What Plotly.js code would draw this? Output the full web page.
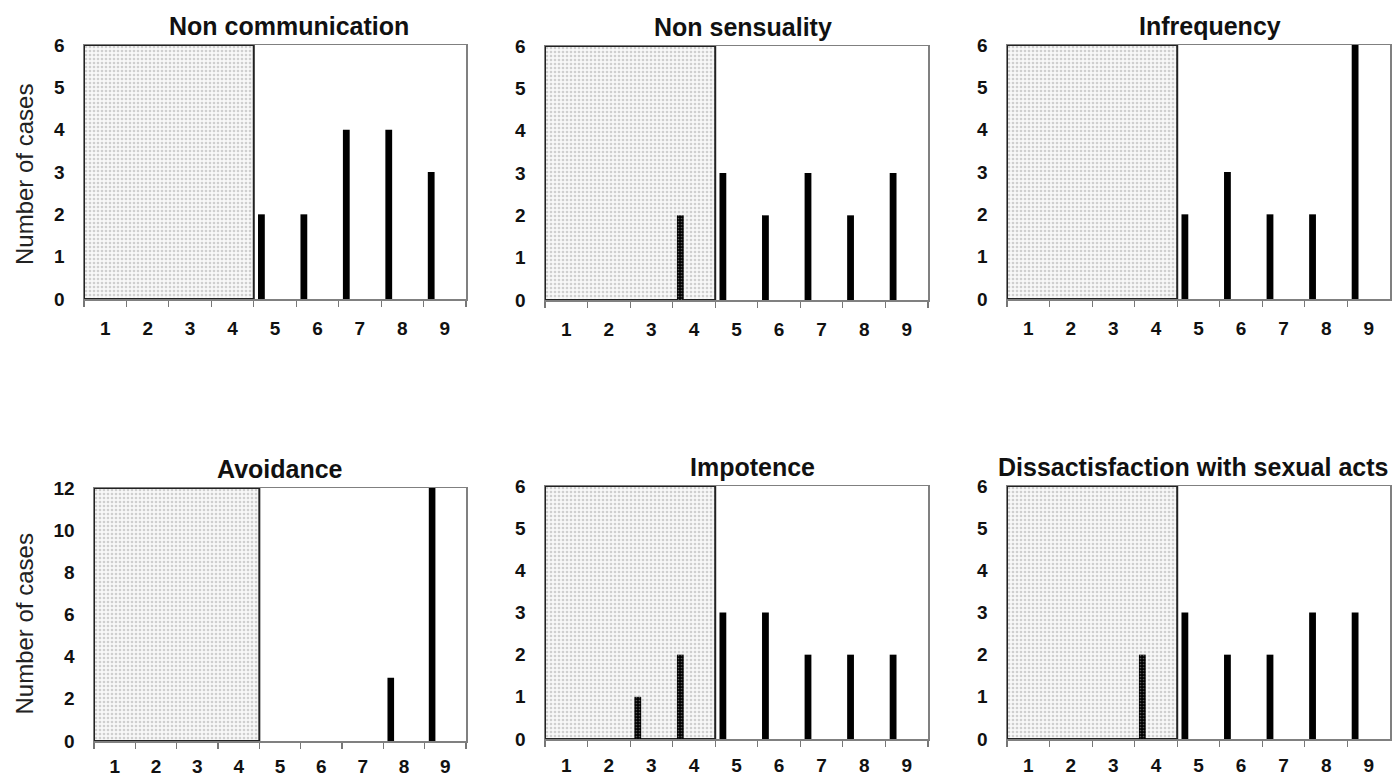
<!DOCTYPE html>
<html>
<head>
<meta charset="utf-8">
<script src="https://cdn.plot.ly/plotly-3.0.1.min.js"></script>
<style>html,body{margin:0;padding:0;background:#fff}#chart{width:1398px;height:778px}</style>
</head>
<body>
<div id="chart"></div>
<script>
// ---- data ----
const categories = ['1','2','3','4','5','6','7','8','9'];
const panelTitles = ['Non communication','Non sensuality','Infrequency','Avoidance','Impotence','Dissactisfaction with sexual acts'];
const nonCommunication = [0,0,0,0,2,2,4,4,3];
const nonSensuality    = [0,0,0,2,3,2,3,2,3];
const infrequency      = [0,0,0,0,2,3,2,2,6];
const avoidance        = [0,0,0,0,0,0,0,3,12];
const impotence        = [0,0,1,2,3,3,2,2,2];
const dissatisfaction  = [0,0,0,2,3,2,2,3,3];
const yMax   = [6,6,6,12,6,6];
const yStep  = [1,1,1,2,1,1];
const shadedRange = [1,4];   // categories covered by the shaded zone
const yTitle = 'Number of cases';

const series = [nonCommunication, nonSensuality, infrequency, avoidance, impotence, dissatisfaction];

// ---- layout geometry (pixels) ----
const W = 1398, H = 778;
const boxes = [
  {l:84,  r:466,  t:45,  b:299, tx:289, so:12},
  {l:545, r:928,  t:46,  b:300, tx:743, so:12},
  {l:1007,r:1390, t:45,  b:299, tx:1210, so:12},
  {l:94,  r:466,  t:488, b:741, tx:280, so:8},
  {l:545, r:928,  t:486, b:739, tx:752, so:9},
  {l:1007,r:1390, t:486, b:739, tx:1193, so:9}
];

const FAM = 'Liberation Sans, Arial, sans-serif';
const traces = [];
const layout = {
  width: W, height: H,
  margin:{l:0,r:0,t:0,b:0},
  paper_bgcolor:'#fff', plot_bgcolor:'#fff',
  showlegend:false, barmode:'overlay',
  font: {family:FAM, size:19, weight:700, color:'#111'},
  annotations: []
};

series.forEach((vals, i) => {
  const n = i + 1;
  const xa = n === 1 ? 'x' : 'x' + n;
  const ya = n === 1 ? 'y' : 'y' + n;
  const bx = boxes[i];
  // shaded zone
  traces.push({
    type:'bar', xaxis:xa, yaxis:ya,
    x:[categories[shadedRange[0]-1]], y:[yMax[i]], base:0,
    offset:-0.5, width:[shadedRange[1]-shadedRange[0]+1],
    marker:{color:'#f4f4f4',
      pattern:{shape:'.', size:4, solidity:0.35, fgcolor:'#cfcfcf', bgcolor:'#f8f8f8', fillmode:'replace'},
      line:{color:'#222', width:2}},
    hoverinfo:'skip', cliponaxis:false
  });
  // data bars
  const inZone = categories.map((c, k) => (k+1) >= shadedRange[0] && (k+1) <= shadedRange[1]);
  traces.push({
    type:'bar', xaxis:xa, yaxis:ya,
    x:categories, y:vals,
    offset:-0.4, width:0.16,
    marker:{color:'#000', line:{width:0},
      pattern:{shape:inZone.map(z => z ? '.' : ''), size:3, solidity:0.25, fgcolor:'#555', bgcolor:'#000', fillmode:'replace'}},
    cliponaxis:false
  });
  layout['xaxis' + (n===1?'':n)] = {
    domain:[bx.l/W, bx.r/W], anchor:ya,
    type:'category', range:[-0.5, 8.5],
    tickson:'boundaries', ticks:'outside', ticklen:6, tickwidth:1.2, tickcolor:'#777',
    showline:true, linecolor:'#808080', linewidth:1.5, mirror:true,
    showgrid:false, zeroline:false,
    tickfont:{family:FAM, size:19, weight:700, color:'#111'},
    ticklabelstandoff: bx.so,
    fixedrange:true
  };
  layout['yaxis' + (n===1?'':n)] = {
    domain:[1 - bx.b/H, 1 - bx.t/H], anchor:xa,
    range:[0, yMax[i]], dtick:yStep[i], tick0:0,
    ticks:'', showline:true, linecolor:'#808080', linewidth:1.5, mirror:true,
    showgrid:false, zeroline:false,
    tickfont:{family:FAM, size:19, weight:700, color:'#111'},
    ticklabelstandoff:14,
    fixedrange:true
  };
  layout.annotations.push({
    text: panelTitles[i], xref:'paper', yref:'paper',
    x: bx.tx / W, y: 1 - bx.t / H, xanchor:'center', yanchor:'bottom', yshift:3,
    showarrow:false,
    font:{family:FAM, size:25, weight:700, color:'#111'}
  });
});

// y-axis titles (left column)
[0, 3].forEach(i => {
  const bx = boxes[i];
  layout.annotations.push({
    text: yTitle, xref:'paper', yref:'paper',
    x: 24 / W, y: 1 - ((bx.t + bx.b) / 2 + (i === 3 ? 10 : 3)) / H,
    xanchor:'center', yanchor:'middle', textangle:-90, showarrow:false,
    font:{family:FAM, size:24, weight:400, color:'#222'}
  });
});

Plotly.newPlot('chart', traces, layout, {displayModeBar:false, staticPlot:true});
</script>
</body>
</html>
